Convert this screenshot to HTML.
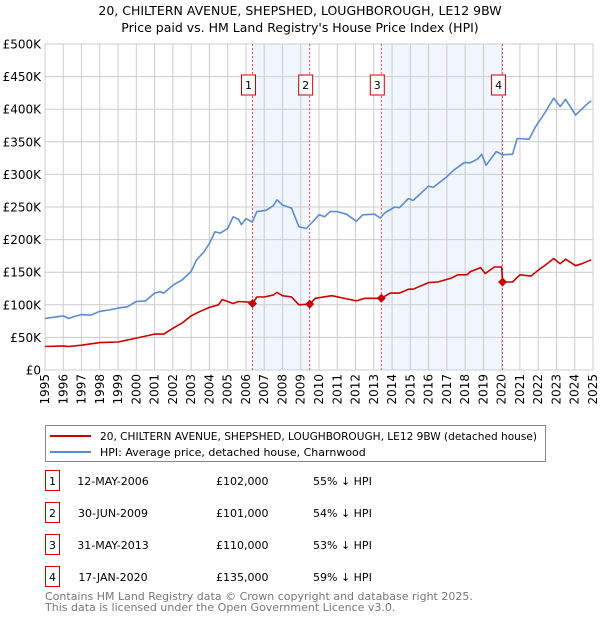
<!DOCTYPE html>
<html><head><meta charset="utf-8"><style>
body{margin:0;background:#fff;font-family:"Liberation Sans","DejaVu Sans",sans-serif;}
#wrap{position:relative;width:600px;height:620px;overflow:hidden;}
svg text{font-family:"DejaVu Sans","Liberation Sans",sans-serif;}
</style></head><body>
<div id="wrap">
<svg id="chart" width="600" height="620"></svg>
</div>
<script>
const hpiYears=[1995.0,1995.5,1996.0,1996.3,1996.6,1997.0,1997.5,1998.0,1998.5,1999.0,1999.5,2000.0,2000.5,2001.0,2001.3,2001.5,2002.0,2002.5,2003.0,2003.3,2003.7,2004.0,2004.3,2004.6,2005.0,2005.3,2005.6,2005.75,2006.0,2006.35,2006.6,2007.1,2007.5,2007.7,2008.0,2008.5,2008.9,2009.3,2009.75,2010.0,2010.3,2010.6,2011.0,2011.5,2012.05,2012.4,2013.05,2013.35,2013.6,2014.15,2014.4,2014.9,2015.15,2016.0,2016.25,2016.9,2017.4,2017.95,2018.3,2018.7,2018.9,2019.15,2019.7,2020.05,2020.6,2020.85,2021.5,2021.85,2022.4,2022.85,2023.2,2023.5,2024.05,2024.6,2024.9];
const hpiValues=[79,81,83,79,82,85,84,90,92,95,97,105,106,118,120,118,130,138,151,169,181,194,212,210,217,235,231,223,232,227,243,245,252,261,253,248,220,217,230,238,235,243,243,239,228,238,239,233,241,250,249,263,260,282,280,294,307,318,318,324,331,314,335,330,331,355,354,373,396,417,404,415,391,406,413];
const priceYears=[1995,1996,1996.3,1997,1998,1999,2000,2001,2001.5,2002,2002.5,2003,2003.5,2004,2004.5,2004.7,2005,2005.3,2005.6,2006.3,2006.36,2006.6,2007,2007.5,2007.7,2008,2008.5,2008.9,2009.49,2009.8,2010.7,2012.05,2012.5,2013.41,2013.9,2014.4,2014.9,2015.15,2016,2016.5,2017.25,2017.6,2018.1,2018.3,2018.85,2019.1,2019.6,2020.0,2020.05,2020.6,2021,2021.6,2022,2022.4,2022.85,2023.2,2023.5,2024.05,2024.4,2024.9];
const priceValues=[36,37,36,38,42,43,49,55,55,64,72,83,90,96,100,108,105,102,105,104,102,112,112,115,119,114,112,100,101,110,114,106,110,110,118,118,124,124,134,135,141,146,146,151,157,148,158,158,135,135,146,144,153,161,171,163,170,160,163,169];
const saleYears=[2006.36,2009.49,2013.41,2020.05];
const salePrices=[102,101,110,135];
const saleLabels=["1","2","3","4"];
const yTicks=[0,50,100,150,200,250,300,350,400,450,500];
const yTickLabels=["£0","£50K","£100K","£150K","£200K","£250K","£300K","£350K","£400K","£450K","£500K"];
const xTicks=[1995,1996,1997,1998,1999,2000,2001,2002,2003,2004,2005,2006,2007,2008,2009,2010,2011,2012,2013,2014,2015,2016,2017,2018,2019,2020,2021,2022,2023,2024,2025];

const NS="http://www.w3.org/2000/svg";
const svg=document.getElementById('chart');
const L=45,R=593,T=44,B=370;
const xs=y=>L+(y-1995)/30*(R-L);
const ys=v=>B-v/500*(B-T);
function mk(tag,attrs,parent){const e=document.createElementNS(NS,tag);for(const k in attrs)e.setAttribute(k,attrs[k]);(parent||svg).appendChild(e);return e;}

let t=mk('text',{x:300,y:15,'text-anchor':'middle','font-size':'12.5',fill:'#000'});


t.textContent="20, CHILTERN AVENUE, SHEPSHED, LOUGHBOROUGH, LE12 9BW";
t=mk('text',{x:300,y:32,'text-anchor':'middle','font-size':'12.5',fill:'#000'});


t.textContent="Price paid vs. HM Land Registry's House Price Index (HPI)";

for(const [a,b] of [[0,1],[2,3]]){
  const r=mk('rect',{x:xs(saleYears[a]),y:T,width:xs(saleYears[b])-xs(saleYears[a]),height:B-T,fill:'#eef3fc',opacity:'0.8'});
  
  
}
xTicks.forEach(yr=>{
  const l=mk('line',{x1:xs(yr),x2:xs(yr),y1:T,y2:B,stroke:'#cccccc','stroke-width':1});
  
  
  const tx=mk('text',{x:0,y:0,'font-size':'12',fill:'#000','text-anchor':'end',transform:`translate(${xs(yr)+4},${B+4}) rotate(-90)`});
  
  
  tx.textContent=yr;
});
yTicks.forEach((v,i)=>{
  const l=mk('line',{x1:L,x2:R,y1:ys(v),y2:ys(v),stroke:'#cccccc','stroke-width':1});
  
  
  const tx=mk('text',{x:L-4,y:ys(v)+4.5,'font-size':'12',fill:'#000','text-anchor':'end'});
  
  
  tx.textContent=yTickLabels[i];
});
let bd=mk('rect',{x:L,y:T,width:R-L,height:B-T,fill:'none',stroke:'#cccccc'});



saleYears.forEach((yr,i)=>{
  const l=mk('line',{x1:xs(yr),x2:xs(yr),y1:T,y2:B,stroke:'#e05050','stroke-width':1,'stroke-dasharray':'2,2'});
  
  
  const g=mk('g',{});
  
  
  mk('rect',{x:xs(yr)-11,y:75,width:14,height:20,fill:'#fff',stroke:'#cc0000','stroke-width':1},g);
  const tx=mk('text',{x:xs(yr)-4,y:89,'text-anchor':'middle','font-size':'11',fill:'#000'},g);
  tx.textContent=saleLabels[i];
});

function path(xa,va,color,name){
  let d='';xa.forEach((yr,i)=>{d+=(i?'L':'M')+xs(yr).toFixed(1)+','+ys(va[i]).toFixed(1);});
  const p=mk('path',{d:d,fill:'none',stroke:color,'stroke-width':1.6,'stroke-linejoin':'round'});
  
  
}
path(hpiYears,hpiValues,'#5b8ccf','hpi-line');
path(priceYears,priceValues,'#cc0000','price-paid-line');
saleYears.forEach((yr,i)=>{
  const x=xs(yr),y=ys(salePrices[i]);
  const m=mk('path',{d:`M${x-4.5},${y}L${x},${y-4.5}L${x+4.5},${y}L${x},${y+4.5}Z`,fill:'#cc0000'});
  
  
});

const lg=mk('g',{});


mk('rect',{x:45.5,y:425.5,width:500,height:36,fill:'#fff',stroke:'#888'},lg);
mk('line',{x1:50,x2:91,y1:436,y2:436,stroke:'#cc0000','stroke-width':2},lg);
mk('line',{x1:50,x2:91,y1:452,y2:452,stroke:'#5b8ccf','stroke-width':2},lg);
let lt=mk('text',{x:100,y:440,'font-size':'11',fill:'#000',textLength:'437',lengthAdjust:'spacingAndGlyphs'},lg);


lt.textContent="20, CHILTERN AVENUE, SHEPSHED, LOUGHBOROUGH, LE12 9BW (detached house)";
lt=mk('text',{x:100,y:456,'font-size':'11',fill:'#000'},lg);


lt.textContent="HPI: Average price, detached house, Charnwood";

const dates=["12-MAY-2006","30-JUN-2009","31-MAY-2013","17-JAN-2020"];
const prices=["£102,000","£101,000","£110,000","£135,000"];
const pcts=["55% ↓ HPI","54% ↓ HPI","53% ↓ HPI","59% ↓ HPI"];
dates.forEach((d,i)=>{
  const cy=482+i*32;
  const g=mk('g',{});
  
  
  mk('rect',{x:45.5,y:cy-11.5,width:14,height:20,fill:'#fff',stroke:'#cc0000'},g);
  let tx=mk('text',{x:52.5,y:cy+3,'text-anchor':'middle','font-size':'11',fill:'#000'},g);tx.textContent=saleLabels[i];
  tx=mk('text',{x:113,y:cy+3,'text-anchor':'middle','font-size':'11',fill:'#000'},g);tx.textContent=d;
  tx=mk('text',{x:216,y:cy+3,'font-size':'11',fill:'#000'},g);tx.textContent=prices[i];
  tx=mk('text',{x:313,y:cy+3,'font-size':'11',fill:'#000'},g);tx.textContent=pcts[i];
});
let f=mk('text',{x:45,y:600,'font-size':'11',fill:'#777'});


f.textContent="Contains HM Land Registry data © Crown copyright and database right 2025.";
f=mk('text',{x:45,y:611,'font-size':'11',fill:'#777'});


f.textContent="This data is licensed under the Open Government Licence v3.0.";
</script>
</body></html>
